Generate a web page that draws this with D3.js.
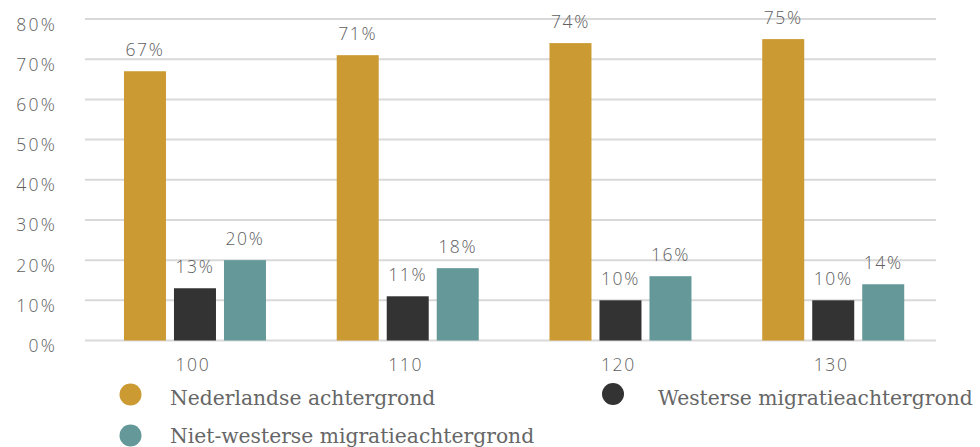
<!DOCTYPE html>
<html>
<head>
<meta charset="utf-8">
<script src="https://cdn.jsdelivr.net/npm/d3@7"></script>
<style>
  html, body { margin: 0; padding: 0; background: #fff; }
  svg { display: block; }
</style>
</head>
<body>
<svg id="chart" width="980" height="447"></svg>
<script>
// Groups along the x axis
const categories = ["100", "110", "120", "130"];
// Series names (legend order)
const seriesNames = ["Nederlandse achtergrond", "Westerse migratieachtergrond", "Niet-westerse migratieachtergrond"];
// Shares per group, one array per series
const nederlandse = [0.67, 0.71, 0.74, 0.75];
const westerse = [0.13, 0.11, 0.10, 0.10];
const nietWesterse = [0.20, 0.18, 0.16, 0.14];
// Y-axis ticks
const yTicks = [0, 0.1, 0.2, 0.3, 0.4, 0.5, 0.6, 0.7, 0.8];

const seriesValues = [nederlandse, westerse, nietWesterse];
const colors = ["#cc9a33", "#333333", "#659999"];

const svg = d3.select("#chart");
const axisFont = "'Open Sans', 'DejaVu Sans', sans-serif";
const legendFont = "'DejaVu Serif', serif";
const textColor = "#606060";

const x0 = d3.scaleBand().domain(categories).range([85, 936]).paddingInner(0).paddingOuter(0);
const x1 = d3.scaleBand().domain(d3.range(seriesNames.length))
  .range([0, x0.bandwidth()]).paddingInner(0.16).paddingOuter(0.7075);
const y = d3.scaleLinear().domain([0, 0.8]).range([340.5, 19]);
const pct = d3.format(".0%");
const barShift = 3.6;

// Gridlines
svg.append("g").selectAll("line").data(yTicks).join("line")
  .attr("x1", 85).attr("x2", 936)
  .attr("y1", d => y(d)).attr("y2", d => y(d))
  .attr("stroke", "#d9d9d9").attr("stroke-width", 2);

// Y-axis labels
svg.append("g").selectAll("text").data(yTicks).join("text")
  .attr("x", 57).attr("y", d => y(d) + 11.5)
  .attr("text-anchor", "end")
  .attr("font-family", axisFont).attr("font-size", 17.5)
  .attr("font-weight", 300)
  .attr("letter-spacing", 2.2)
  .attr("fill", textColor)
  .text(d => pct(d));

// Bars and value labels
const groups = svg.append("g").selectAll("g").data(categories).join("g")
  .attr("transform", c => `translate(${x0(c) + barShift},0)`);

groups.each(function(c, gi) {
  const g = d3.select(this);
  const vals = seriesValues.map((s, si) => ({ si, v: s[gi] }));
  g.selectAll("rect").data(vals).join("rect")
    .attr("x", d => x1(d.si)).attr("width", x1.bandwidth())
    .attr("y", d => y(d.v)).attr("height", d => y(0) - y(d.v))
    .attr("fill", d => colors[d.si]);
  g.selectAll("text").data(vals).join("text")
    .attr("x", d => x1(d.si) + x1.bandwidth() / 2)
    .attr("y", d => y(d.v) - 15)
    .attr("text-anchor", "middle")
    .attr("font-family", axisFont).attr("font-size", 17.5)
    .attr("font-weight", 300)
    .attr("letter-spacing", 1.6)
    .attr("fill", textColor)
    .text(d => pct(d.v));
});

// X-axis labels
svg.append("g").selectAll("text").data(categories).join("text")
  .attr("x", c => x0(c) + x0.bandwidth() / 2 + 1.5)
  .attr("y", 371)
  .attr("text-anchor", "middle")
  .attr("font-family", axisFont).attr("font-size", 17.5)
  .attr("font-weight", 300)
  .attr("letter-spacing", 1.6)
  .attr("fill", textColor)
  .text(c => c);

// Legend
const legendPos = [
  { cx: 130.5, cy: 394.5, tx: 170, ty: 405 },
  { cx: 613, cy: 394, tx: 658, ty: 405 },
  { cx: 130.5, cy: 435.5, tx: 170, ty: 443 }
];
const legend = svg.append("g").selectAll("g").data(seriesNames).join("g");
legend.append("circle")
  .attr("cx", (d, i) => legendPos[i].cx).attr("cy", (d, i) => legendPos[i].cy)
  .attr("r", 11).attr("fill", (d, i) => colors[i]);
legend.append("text")
  .attr("x", (d, i) => legendPos[i].tx).attr("y", (d, i) => legendPos[i].ty)
  .attr("font-family", legendFont).attr("font-size", 20.3)
  .attr("fill", "#666666")
  .text(d => d);
</script>
</body>
</html>
